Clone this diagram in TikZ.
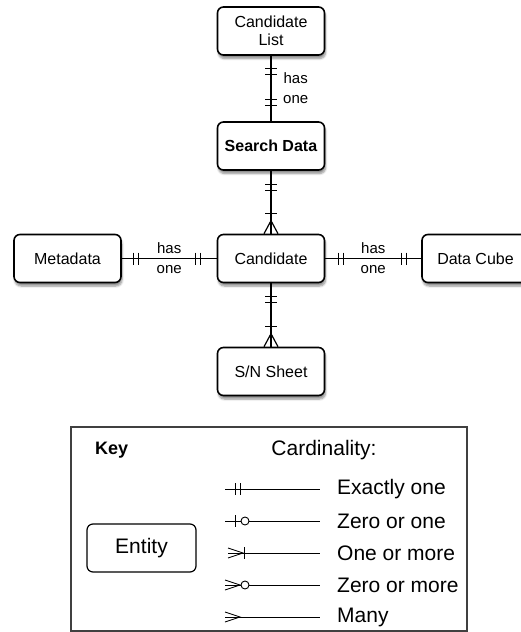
\documentclass[tikz,border=0pt]{standalone}
\usepackage{fontspec}
\setmainfont{Liberation Sans}
\usetikzlibrary{shadows.blur,calc}
\tikzset{
  ent/.style={draw, line width=1.6pt, rounded corners=6pt, minimum width=107pt, minimum height=48pt,
    fill=white, align=center, font=\fontsize{16}{19}\selectfont,
    blur shadow={shadow xshift=1pt, shadow yshift=-3.5pt, shadow blur steps=6, shadow opacity=45}},
  conn/.style={line width=1.5pt},
  lab/.style={font=\fontsize{15}{20}\selectfont, align=center, inner sep=0pt},
  hbarv/.pic={\draw[line width=1.1pt] (-6,0) -- (6,0);},
  vbarh/.pic={\draw[line width=1.1pt] (0,-6) -- (0,6);},
  crowdown/.pic={\draw[line width=1.2pt] (-7,0) -- (0,-13) -- (7,0);},
  keyline/.style={line width=0.9pt},
  keytxt/.style={anchor=west, font=\fontsize{21}{24}\selectfont, inner sep=0pt},
}
\begin{document}
\begin{tikzpicture}[x=1pt,y=-1pt]
\useasboundingbox (0,0) rectangle (521,632);
% entities
\node[ent] (cl) at (271,31) {Candidate\\[-1pt]List};
\node[ent] (sd) at (271,146) {\textbf{Search Data}};
\node[ent] (ca) at (271,258.5) {Candidate};
\node[ent] (sn) at (271,371.5) {S/N Sheet};
\node[ent] (md) at (67.5,258.5) {Metadata};
\node[ent] (dc) at (475.5,258.5) {Data Cube};
% connectors
\draw[conn] (cl) -- (sd);
\pic at ($(cl.south)+(0,13)$) {hbarv};
\pic at ($(cl.south)+(0,19)$) {hbarv};
\pic at ($(sd.north)+(0,-16)$) {hbarv};
\pic at ($(sd.north)+(0,-22)$) {hbarv};
\node[lab, anchor=west] (l1) at ($(cl.south)!0.5!(sd.north)+(12,0)$) {has\\one};

\draw[conn] (sd) -- (ca);
\pic at ($(sd.south)+(0,14)$) {hbarv};
\pic at ($(sd.south)+(0,20)$) {hbarv};
\pic at ($(ca.north)+(0,-20)$) {hbarv};
\pic at (ca.north) {crowdown};

\draw[conn] (ca) -- (sn);
\pic at ($(ca.south)+(0,13)$) {hbarv};
\pic at ($(ca.south)+(0,19)$) {hbarv};
\pic at ($(sn.north)+(0,-20)$) {hbarv};
\pic at (sn.north) {crowdown};

\draw[conn] (md) -- (ca);
\pic at ($(md.east)+(12,0)$) {vbarh};
\pic at ($(md.east)+(17,0)$) {vbarh};
\pic at ($(ca.west)+(-16,0)$) {vbarh};
\pic at ($(ca.west)+(-21,0)$) {vbarh};
\node[lab] (l2) at ($(md.east)!0.5!(ca.west)$) {has\\one};

\draw[conn] (ca) -- (dc);
\pic at ($(ca.east)+(13,0)$) {vbarh};
\pic at ($(ca.east)+(18,0)$) {vbarh};
\pic at ($(dc.west)+(-15,0)$) {vbarh};
\pic at ($(dc.west)+(-20,0)$) {vbarh};
\node[lab] (l3) at ($(ca.east)!0.5!(dc.west)$) {has\\one};

% key
\draw[line width=1.2pt, black!75] (71,427) rectangle (467,631);
\node[anchor=west, font=\fontsize{18}{20}\selectfont\bfseries, inner sep=0pt] (key) at (95,450) {Key};
\node[font=\fontsize{21}{24}\selectfont, inner sep=0pt] (card) at (324,450) {Cardinality:};
\node[draw, line width=1.2pt, rounded corners=6pt, minimum width=109pt, minimum height=48pt,
  font=\fontsize{21}{24}\selectfont] (entk) at (141.5,548) {Entity};
% rows
\coordinate (r1) at (225,489);
\coordinate (r2) at (225,521);
\coordinate (r3) at (225,553);
\coordinate (r4) at (225,585);
\coordinate (r5) at (225,617);
\draw[keyline] (r1) -- ++(95,0);
\draw[keyline] ($(r1)+(10,-6)$) -- ++(0,12);
\draw[keyline] ($(r1)+(15,-6)$) -- ++(0,12);
\node[keytxt] (t1) at ($(r1)+(112,0)$) {Exactly one};

\draw[keyline] (r2) -- ++(16,0);
\draw[keyline] ($(r2)+(10,-6)$) -- ++(0,12);
\draw[keyline] ($(r2)+(20,0)$) circle (4);
\draw[keyline] ($(r2)+(24,0)$) -- ++(71,0);
\node[keytxt] (t2) at ($(r2)+(112,0)$) {Zero or one};

\draw[keyline] ($(r3)+(3,0)$) -- ++(92,0);
\draw[keyline] ($(r3)+(3,-5)$) -- ++(15,5) -- ++(-15,5);
\draw[keyline] ($(r3)+(19,-6)$) -- ++(0,12);
\node[keytxt] (t3) at ($(r3)+(112,0)$) {One or more};

\draw[keyline] ($(r4)+(0,0)$) -- ++(16,0);
\draw[keyline] ($(r4)+(0,-5)$) -- ++(15,5) -- ++(-15,5);
\draw[keyline] ($(r4)+(20,0)$) circle (4);
\draw[keyline] ($(r4)+(24,0)$) -- ++(71,0);
\node[keytxt] (t4) at ($(r4)+(112,0)$) {Zero or more};

\draw[keyline] (r5) -- ++(95,0);
\draw[keyline] ($(r5)+(0,-5)$) -- ++(15,5) -- ++(-15,5);
\node[keytxt] (t5) at ($(r5)+(112,0)$) {Many};
\end{tikzpicture}
\end{document}
